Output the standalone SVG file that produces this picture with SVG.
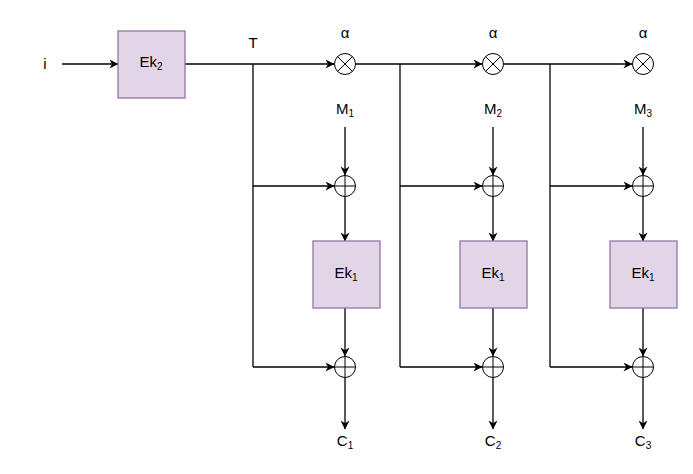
<svg xmlns="http://www.w3.org/2000/svg" width="693" height="474" viewBox="0 0 693 474">
<style>
.box{fill:#e1d5e7;stroke:#9673a6;stroke-width:1.3}
.ln{fill:none;stroke:#000;stroke-width:1.3}
.ar{fill:none;stroke:#000;stroke-width:1.3;marker-end:url(#ah)}
.op{fill:#fff;stroke:#000;stroke-width:1}
text{font-family:"Liberation Sans",Arial,sans-serif;font-size:15px;fill:#000;text-anchor:middle}
.sub{font-size:10px}
</style>
<defs>
<marker id="ah" viewBox="0 0 10 10" refX="9.5" refY="5" markerWidth="10" markerHeight="9" markerUnits="userSpaceOnUse" orient="auto">
<path d="M0,0 L10,5 L0,10 L3,5 z" fill="#000"/>
</marker>
<g id="mul"><circle r="10.5" class="op"/><path d="M-7.4,-7.4 L7.4,7.4 M-7.4,7.4 L7.4,-7.4" class="op" fill="none"/></g>
<g id="add"><circle r="10.5" class="op"/><path d="M-10.5,0 H10.5 M0,-10.5 V10.5" class="op" fill="none"/></g>
</defs>
<g id="connectors">
<path class="ar" d="M62,64 H118"/>
<path class="ar" d="M185,64 H334"/>
<path class="ln" d="M253,64 V367"/>
<path class="ar" d="M253,186 H334"/>
<path class="ar" d="M253,367 H334"/>
<path class="ar" d="M356,64 H482"/>
<path class="ln" d="M400,64 V367"/>
<path class="ar" d="M400,186 H482"/>
<path class="ar" d="M400,367 H482"/>
<path class="ar" d="M504,64 H632"/>
<path class="ln" d="M550,64 V367"/>
<path class="ar" d="M550,186 H632"/>
<path class="ar" d="M550,367 H632"/>
<path class="ar" d="M345,127 V175"/>
<path class="ar" d="M345,197 V241"/>
<path class="ar" d="M345,308 V356"/>
<path class="ar" d="M345,378 V429"/>
<path class="ar" d="M493,127 V175"/>
<path class="ar" d="M493,197 V241"/>
<path class="ar" d="M493,308 V356"/>
<path class="ar" d="M493,378 V429"/>
<path class="ar" d="M643,127 V175"/>
<path class="ar" d="M643,197 V241"/>
<path class="ar" d="M643,308 V356"/>
<path class="ar" d="M643,378 V429"/>
</g>
<g id="input"><text x="45" y="69">i</text></g>
<g id="ek2"><rect class="box" x="118" y="31" width="67" height="67"/><text x="151" y="67">Ek<tspan class="sub" dy="3">2</tspan></text></g>
<g id="T"><text x="253" y="48">T</text></g>
<g id="mul1"><text x="345" y="38">α</text><use href="#mul" x="345" y="64"/></g>
<g id="mul2"><text x="493" y="38">α</text><use href="#mul" x="493" y="64"/></g>
<g id="mul3"><text x="643" y="38">α</text><use href="#mul" x="643" y="64"/></g>
<g id="m1"><text x="345" y="114">M<tspan class="sub" dy="3">1</tspan></text></g>
<g id="m2"><text x="493" y="114">M<tspan class="sub" dy="3">2</tspan></text></g>
<g id="m3"><text x="643" y="114">M<tspan class="sub" dy="3">3</tspan></text></g>
<g id="add1a"><use href="#add" x="345" y="186"/></g>
<g id="add2a"><use href="#add" x="493" y="186"/></g>
<g id="add3a"><use href="#add" x="643" y="186"/></g>
<g id="ek1a"><rect class="box" x="313" y="241" width="67" height="67"/><text x="346" y="278">Ek<tspan class="sub" dy="3">1</tspan></text></g>
<g id="ek1b"><rect class="box" x="460" y="241" width="67" height="67"/><text x="493" y="278">Ek<tspan class="sub" dy="3">1</tspan></text></g>
<g id="ek1c"><rect class="box" x="610" y="241" width="67" height="67"/><text x="643" y="278">Ek<tspan class="sub" dy="3">1</tspan></text></g>
<g id="add1b"><use href="#add" x="345" y="367"/></g>
<g id="add2b"><use href="#add" x="493" y="367"/></g>
<g id="add3b"><use href="#add" x="643" y="367"/></g>
<g id="c1"><text x="345" y="446">C<tspan class="sub" dy="3">1</tspan></text></g>
<g id="c2"><text x="493" y="446">C<tspan class="sub" dy="3">2</tspan></text></g>
<g id="c3"><text x="643" y="446">C<tspan class="sub" dy="3">3</tspan></text></g>
</svg>
